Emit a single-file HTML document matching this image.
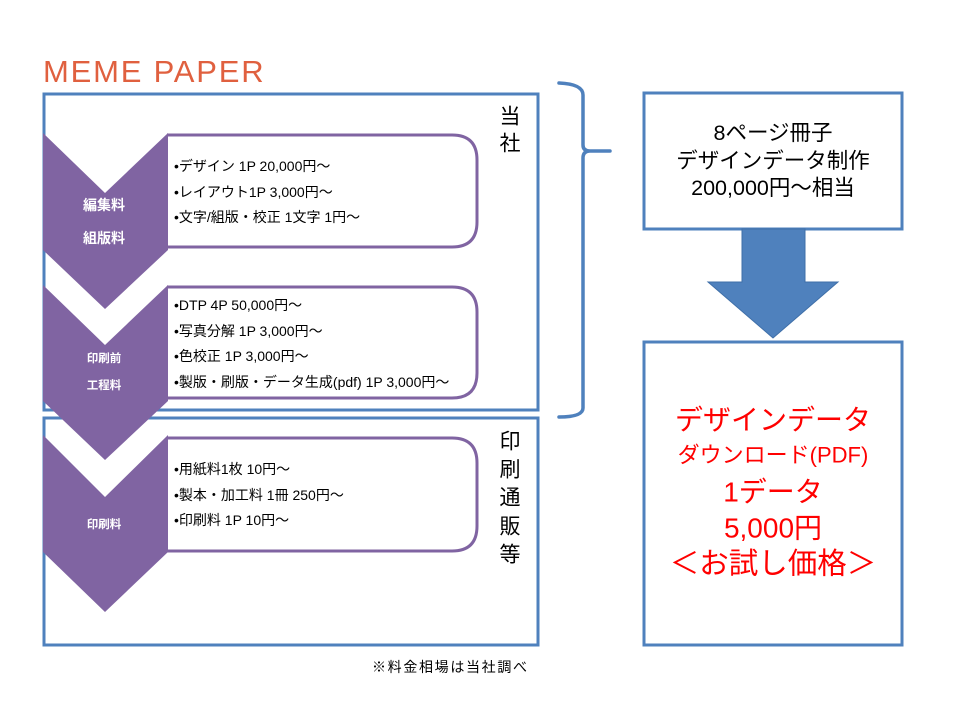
<!DOCTYPE html>
<html>
<head>
<meta charset="utf-8">
<style>
html,body{margin:0;padding:0;background:#fff;}
svg{display:block;}
text{font-family:"Liberation Sans","Noto Sans CJK JP",sans-serif;}
</style>
</head>
<body>
<svg width="960" height="720" viewBox="0 0 960 720" xmlns="http://www.w3.org/2000/svg">
  <!-- Title -->
  <text x="43" y="82" font-size="31" fill="#E0603F" letter-spacing="1.8">MEME PAPER</text>

  <!-- Outer boxes -->
  <rect x="44" y="94" width="494" height="316" fill="#fff" stroke="#4F81BD" stroke-width="3"/>
  <rect x="44" y="418" width="494" height="227" fill="#fff" stroke="#4F81BD" stroke-width="3"/>

  <!-- Rounded boxes (left side hidden by chevrons) -->
  <g fill="#fff" stroke="#8064A2" stroke-width="3">
    <path d="M167,135 H452 Q477,135 477,160 V222 Q477,247 452,247 H167"/>
    <path d="M167,287 H452 Q477,287 477,312 V373 Q477,398 452,398 H167"/>
    <path d="M167,438 H452 Q477,438 477,463 V526 Q477,551 452,551 H167"/>
  </g>

  <!-- Chevrons -->
  <polygon points="43,133 105,193 168,133 168,250 105,309 43,250" fill="#8064A2"/>
  <polygon points="43,285 105,345 168,285 168,401 105,460 43,401" fill="#8064A2"/>
  <polygon points="43,435 105,497 168,435 168,552 105,612 43,552" fill="#8064A2"/>

  <!-- Chevron labels -->
  <g fill="#fff" font-weight="bold" text-anchor="middle" dominant-baseline="central">
    <text x="104" y="205" font-size="14">編集料</text>
    <text x="104" y="238" font-size="14">組版料</text>
    <text x="104" y="359" font-size="11.5">印刷前</text>
    <text x="104" y="386" font-size="11.5">工程料</text>
    <text x="104" y="525" font-size="11.5">印刷料</text>
  </g>

  <!-- Box texts -->
  <g fill="#000" font-size="14" dominant-baseline="central">
    <text x="174" y="166">•デザイン 1P 20,000円～</text>
    <text x="174" y="192">•レイアウト1P 3,000円～</text>
    <text x="174" y="217">•文字/組版・校正 1文字 1円～</text>

    <text x="174" y="305">•DTP 4P 50,000円～</text>
    <text x="174" y="331">•写真分解 1P 3,000円～</text>
    <text x="174" y="356">•色校正 1P 3,000円～</text>
    <text x="174" y="382">•製版・刷版・データ生成(pdf) 1P 3,000円～</text>

    <text x="174" y="469">•用紙料1枚 10円～</text>
    <text x="174" y="495">•製本・加工料 1冊 250円～</text>
    <text x="174" y="520">•印刷料 1P 10円～</text>
  </g>

  <!-- Vertical labels -->
  <g fill="#000" font-size="21" text-anchor="middle" dominant-baseline="central">
    <text x="510" y="117">当</text>
    <text x="510" y="144">社</text>
    <text x="510" y="442">印</text>
    <text x="510" y="470">刷</text>
    <text x="510" y="498">通</text>
    <text x="510" y="527">販</text>
    <text x="510" y="555">等</text>
  </g>

  <!-- Footnote -->
  <text x="372" y="667" font-size="14" fill="#000" dominant-baseline="central" textLength="155">※料金相場は当社調べ</text>

  <!-- Brace -->
  <path d="M559,83 Q583,84 583,95 L583,145 Q583,151 590,151 L610,151 M590,151 Q583,151 583,158 L583,408 Q583,417 559,417" fill="none" stroke="#4F81BD" stroke-width="3.5" stroke-linecap="round"/>

  <!-- Top right box -->
  <rect x="644" y="93" width="258" height="136" fill="#fff" stroke="#4F81BD" stroke-width="3"/>
  <g fill="#000" font-size="21.5" text-anchor="middle" dominant-baseline="central">
    <text x="773" y="133">8ページ冊子</text>
    <text x="773" y="161">デザインデータ制作</text>
    <text x="773" y="188">200,000円～相当</text>
  </g>

  <!-- Down arrow -->
  <polygon points="742,229 805,229 805,282 838,282 773,338 708,282 742,282" fill="#4F81BD" stroke="#3F6FA8" stroke-width="1"/>

  <!-- Bottom right box -->
  <rect x="644" y="342" width="258" height="303" fill="#fff" stroke="#4F81BD" stroke-width="3"/>
  <g fill="#FF0000" text-anchor="middle" dominant-baseline="central">
    <text x="773" y="420" font-size="28">デザインデータ</text>
    <text x="773" y="455" font-size="22">ダウンロード(PDF)</text>
    <text x="773" y="492" font-size="28">1データ</text>
    <text x="773" y="528" font-size="28">5,000円</text>
    <text x="773" y="564" font-size="29.5">＜お試し価格＞</text>
  </g>
</svg>
</body>
</html>
